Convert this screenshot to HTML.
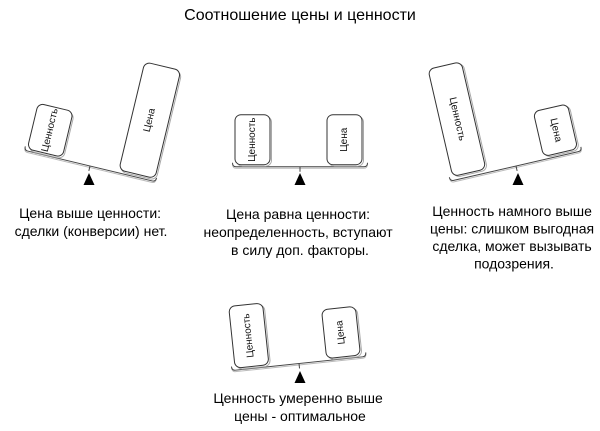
<!DOCTYPE html>
<html>
<head>
<meta charset="utf-8">
<style>
  html, body { margin: 0; padding: 0; background: #fff; }
  svg { display: block; }
  text { font-family: "Liberation Sans", "DejaVu Sans", sans-serif; fill: #000; }
  .bx { fill: #fff; stroke: #333; stroke-width: 1; }
  .sh { fill: none; stroke: #aaa; stroke-width: 1; }
  .bt { font-size: 10px; fill: #111; }
  .beam { fill: none; stroke: #444; stroke-width: 1; }
  .beam2 { fill: none; stroke: #bbb; stroke-width: 1; }
  .cap { font-size: 14px; }
</style>
</head>
<body>
<svg width="600" height="431" viewBox="0 0 600 431" xmlns="http://www.w3.org/2000/svg">
  <text x="300" y="20" font-size="16" text-anchor="middle">Соотношение цены и ценности</text>

  <!-- Diagram 1 -->
  <g transform="translate(90,166) rotate(13.5)">
    <path class="beam2" d="M-67.5,-3 Q-67.5,1.5 -64,1.5 L64,1.5 Q67.5,1.5 67.5,-3"/>
    <path class="beam" d="M-67.5,-4 Q-67.5,0 -64,0 L64,0 Q67.5,0 67.5,-4"/>
    <line x1="0" y1="0" x2="0" y2="5" stroke="#444"/>
    <rect class="sh" x="-63.5" y="-47.5" width="36" height="47" rx="6"/>
    <rect class="bx" x="-65" y="-49" width="36" height="47" rx="6"/>
    <rect class="sh" x="30.5" y="-112.5" width="37" height="111" rx="6"/>
    <rect class="bx" x="29" y="-114" width="37" height="111" rx="6"/>
    <text class="bt" transform="translate(-47,-25.5) rotate(-90)" text-anchor="middle" dominant-baseline="central">Ценность</text>
    <text class="bt" transform="translate(47.5,-58.5) rotate(-90)" text-anchor="middle" dominant-baseline="central">Цена</text>
  </g>
  <polygon points="89,173 94.5,185 83.5,185" fill="#000"/>

  <!-- Diagram 2 -->
  <g transform="translate(300,166.7)">
    <path class="beam2" d="M-67.5,-3 Q-67.5,1.5 -64,1.5 L64,1.5 Q67.5,1.5 67.5,-3"/>
    <path class="beam" d="M-67.5,-4 Q-67.5,0 -64,0 L64,0 Q67.5,0 67.5,-4"/>
    <line x1="0" y1="0" x2="0" y2="5" stroke="#444"/>
    <rect class="sh" x="-63.5" y="-50.5" width="35" height="50" rx="6"/>
    <rect class="bx" x="-65" y="-52" width="35" height="50" rx="6"/>
    <rect class="sh" x="28.5" y="-50.5" width="35" height="50" rx="6"/>
    <rect class="bx" x="27" y="-52" width="35" height="50" rx="6"/>
    <text class="bt" transform="translate(-47.5,-27) rotate(-90)" text-anchor="middle" dominant-baseline="central">Ценность</text>
    <text class="bt" transform="translate(44.5,-27) rotate(-90)" text-anchor="middle" dominant-baseline="central">Цена</text>
  </g>
  <polygon points="300,173 305.5,185 294.5,185" fill="#000"/>

  <!-- Diagram 3 -->
  <g transform="translate(516,166) rotate(-13)">
    <path class="beam2" d="M-67.5,-3 Q-67.5,1.5 -64,1.5 L64,1.5 Q67.5,1.5 67.5,-3"/>
    <path class="beam" d="M-67.5,-4 Q-67.5,0 -64,0 L64,0 Q67.5,0 67.5,-4"/>
    <line x1="0" y1="0" x2="0" y2="5" stroke="#444"/>
    <rect class="sh" x="-62.5" y="-112.5" width="34" height="110" rx="6"/>
    <rect class="bx" x="-64" y="-114" width="34" height="110" rx="6"/>
    <rect class="sh" x="30.5" y="-47.5" width="35" height="46" rx="6"/>
    <rect class="bx" x="29" y="-49" width="35" height="46" rx="6"/>
    <text class="bt" transform="translate(-47,-59) rotate(90)" text-anchor="middle" dominant-baseline="central">Ценность</text>
    <text class="bt" transform="translate(46.5,-26) rotate(90)" text-anchor="middle" dominant-baseline="central">Цена</text>
  </g>
  <polygon points="518,173 523.5,185 512.5,185" fill="#000"/>

  <!-- Diagram 4 -->
  <g transform="translate(299,363.5) rotate(-6)">
    <path class="beam2" d="M-67.5,-3 Q-67.5,1.5 -64,1.5 L64,1.5 Q67.5,1.5 67.5,-3"/>
    <path class="beam" d="M-67.5,-4 Q-67.5,0 -64,0 L64,0 Q67.5,0 67.5,-4"/>
    <line x1="0" y1="0" x2="0" y2="5" stroke="#444"/>
    <rect class="sh" x="-62.5" y="-62.5" width="34" height="62" rx="6"/>
    <rect class="bx" x="-64" y="-64" width="34" height="62" rx="6"/>
    <rect class="sh" x="29.5" y="-49.5" width="34" height="49" rx="6"/>
    <rect class="bx" x="28" y="-51" width="34" height="49" rx="6"/>
    <text class="bt" transform="translate(-47,-33) rotate(-90)" text-anchor="middle" dominant-baseline="central">Ценность</text>
    <text class="bt" transform="translate(45,-26.5) rotate(-90)" text-anchor="middle" dominant-baseline="central">Цена</text>
  </g>
  <polygon points="300,371 305.5,383 294.5,383" fill="#000"/>

  <!-- Captions -->
  <text class="cap" text-anchor="middle">
    <tspan x="92" y="218">Цена выше ценности:</tspan>
    <tspan x="91" y="236">сделки (конверсии) нет.</tspan>
  </text>
  <text class="cap" text-anchor="middle">
    <tspan x="300" y="219">Цена равна ценности:</tspan>
    <tspan x="300" y="237">неопределенность, вступают</tspan>
    <tspan x="300" y="255">в силу доп. факторы.</tspan>
  </text>
  <text class="cap" text-anchor="middle">
    <tspan x="514" y="216">Ценность намного выше</tspan>
    <tspan x="514" y="233.5">цены: слишком выгодная</tspan>
    <tspan x="514" y="251">сделка, может вызывать</tspan>
    <tspan x="514" y="268.5">подозрения.</tspan>
  </text>
  <text class="cap" text-anchor="middle">
    <tspan x="300" y="403">Ценность умеренно выше</tspan>
    <tspan x="300" y="421">цены - оптимальное</tspan>
  </text>
</svg>
</body>
</html>
